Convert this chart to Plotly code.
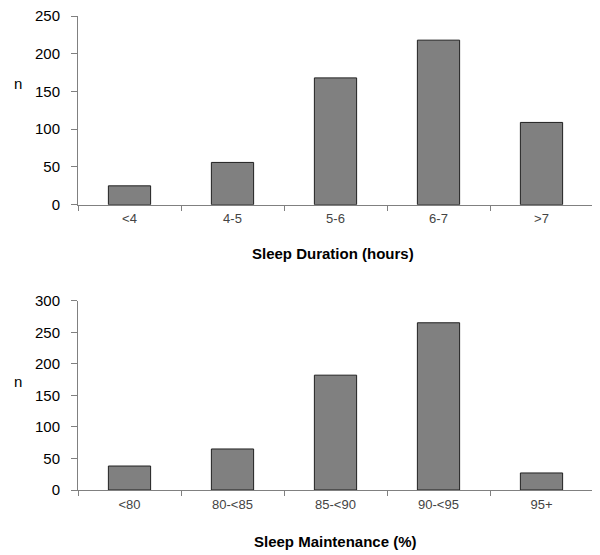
import plotly.graph_objects as go

dur_cats = ["<4", "4-5", "5-6", "6-7", ">7"]
dur_vals = [25, 56, 168, 218, 109]
dur_ticks = [0, 50, 100, 150, 200, 250]

maint_cats = ["<80", "80-<85", "85-<90", "90-<95", "95+"]
maint_vals = [38, 65, 182, 265, 27]
maint_ticks = [0, 50, 100, 150, 200, 250, 300]

# page body has an 8px margin; figure is sized to fill the rest of the 600x555 window
OFF = 8
W, H = 600 - OFF, 555 - OFF
def px_x(px):
    return (px - OFF) / W
def px_y(px):
    return 1 - (px - OFF) / H

FONT = "Liberation Sans, Arial"

fig = go.Figure()
bar_style = dict(marker=dict(color="#808080", line=dict(color="#202020", width=1)), showlegend=False)
fig.add_trace(go.Bar(x=dur_cats, y=dur_vals, xaxis="x", yaxis="y", **bar_style))
fig.add_trace(go.Bar(x=maint_cats, y=maint_vals, xaxis="x2", yaxis="y2", **bar_style))

xd = [px_x(78), px_x(593)]
common_x = dict(type="category", range=[-0.5, 4.5], showline=True, linecolor="#808080", linewidth=1,
                ticks="outside", tickson="boundaries", ticklen=5, tickcolor="#808080",
                tickfont=dict(family=FONT, size=13, color="#444444"), ticklabelstandoff=2,
                showgrid=False, zeroline=False, automargin=False, fixedrange=True)
common_y = dict(showline=True, linecolor="#808080", linewidth=1, ticks="outside", ticklen=6,
                tickcolor="#808080", tickfont=dict(family=FONT, size=15, color="#000000"),
                showgrid=False, zeroline=False, tickmode="array", ticklabelstandoff=8,
                ticklabeloverflow="allow", automargin=False, fixedrange=True)

ann_font = dict(family=FONT, size=15, color="#000")
fig.update_layout(
    width=W, height=H, margin=dict(l=0, r=0, t=0, b=0, pad=0),
    paper_bgcolor="white", plot_bgcolor="white", bargap=0.59,
    xaxis=dict(domain=xd, anchor="y", **common_x),
    yaxis=dict(domain=[px_y(204.7), px_y(16)], anchor="x", range=[0, 250], tickvals=dur_ticks, **common_y),
    xaxis2=dict(domain=xd, anchor="y2", **common_x),
    yaxis2=dict(domain=[px_y(490), px_y(300.7)], anchor="x2", range=[0, 300], tickvals=maint_ticks, **common_y),
    annotations=[
        dict(text="n", x=px_x(18), y=px_y(83), xref="paper", yref="paper", showarrow=False,
             xanchor="center", yanchor="middle", font=ann_font),
        dict(text="n", x=px_x(18), y=px_y(381), xref="paper", yref="paper", showarrow=False,
             xanchor="center", yanchor="middle", font=ann_font),
        dict(text="<b>Sleep Duration (hours)</b>", x=px_x(332.5), y=px_y(253), xref="paper", yref="paper",
             showarrow=False, xanchor="center", yanchor="middle", font=ann_font),
        dict(text="<b>Sleep Maintenance (%)</b>", x=px_x(335), y=px_y(541), xref="paper", yref="paper",
             showarrow=False, xanchor="center", yanchor="middle", font=ann_font),
    ],
)

fig.write_html("out.html")
